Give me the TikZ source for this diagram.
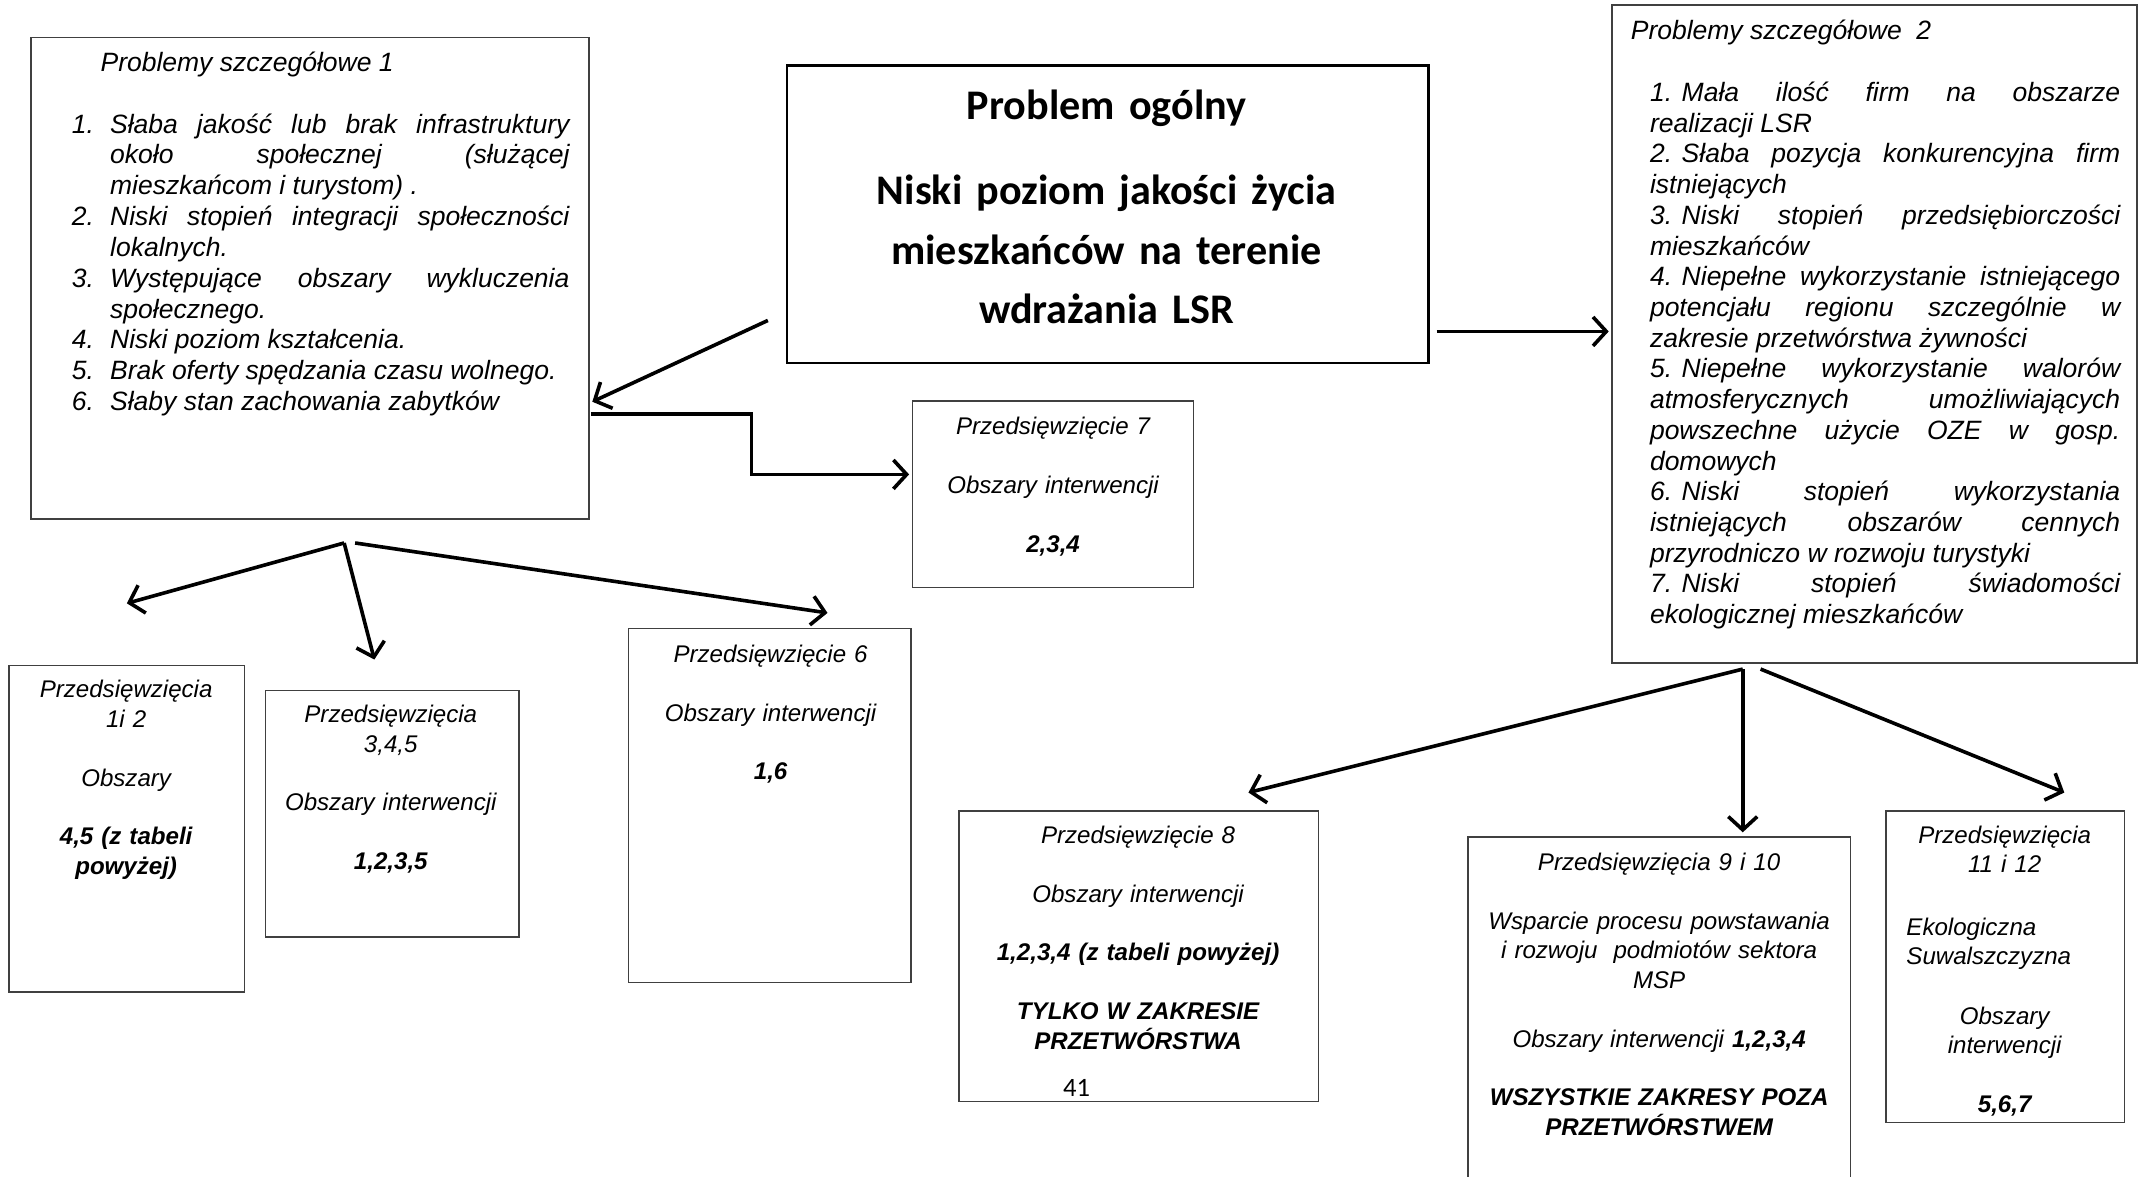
\documentclass[tikz,border=0pt]{standalone}
\usepackage{fontspec}
\setmainfont{Liberation Sans}
\newfontfamily\calibri{Carlito}
\usetikzlibrary{arrows.meta,calc}
\hyphenpenalty=10000
\tolerance=10000
\frenchspacing
% punkt listy z wiszacym wcieciem
\newcommand{\pkt}[1]{\noindent\hangindent=0.56cm\hangafter=1\makebox[0.56cm][l]{#1}\ignorespaces}

\begin{document}
\begin{tikzpicture}[%
    x=0.02cm, y=-0.02cm,
    ramka/.style={draw=black!75, line width=0.6pt, anchor=north west, inner sep=0pt},
    opis/.style={anchor=base, inner sep=0pt, align=center,
        font=\fontsize{10}{12.2}\selectfont\itshape},
    lista/.style={anchor=base west, inner sep=0pt, align=justify,
        font=\fontsize{11}{12.8}\selectfont\itshape},
    strz/.style={->, line width=1.5pt},
    >={Straight Barb[length=5.5pt,width=12pt]} % grot strzalki
    ]
    \useasboundingbox (0,0) rectangle (1568,858);

    % Ramki
    \node (ps1) [ramka, minimum width=8.14cm, minimum height=7.02cm] at (22,27) {};
    \node (ogolny) [ramka, draw=black, line width=1pt, minimum width=9.36cm, minimum height=4.34cm] at (573,47) {};
    \node (ps2) [ramka, minimum width=7.66cm, minimum height=9.6cm] at (1175,3) {};
    \node (p7) [ramka, minimum width=4.1cm, minimum height=2.72cm] at (665,292) {};
    \node (p12) [ramka, minimum width=3.44cm, minimum height=4.76cm] at (6,485) {};
    \node (p345) [ramka, minimum width=3.7cm, minimum height=3.6cm] at (193,503) {};
    \node (p6) [ramka, minimum width=4.12cm, minimum height=5.16cm] at (458,458) {};
    \node (p8) [ramka, minimum width=5.24cm, minimum height=4.24cm] at (699,591) {};
    \node (p910) [ramka, minimum width=5.58cm, minimum height=5.4cm] at (1070,610) {};
    \node (p1112) [ramka, minimum width=3.48cm, minimum height=4.54cm] at (1375,591) {};

    % Problem ogolny
    \node (tytul) [anchor=base, inner sep=0pt, align=center, text width=9cm,
        font=\calibri\bfseries\fontsize{17.5}{24.8}\selectfont] at (807,87)
        {Problem ogólny\\[10.5pt] Niski poziom jakości życia\\ mieszkańców na terenie\\ wdrażania LSR};

    % Problemy szczegolowe
    \node (ps1nag) [lista, align=left] at (73,52) {Problemy szczegółowe 1};
    \node (ps1t) [lista, text width=7.26cm] at (52,97) {%
        \pkt{1.}Słaba jakość lub brak infrastruktury\linebreak około społecznej (służącej\linebreak mieszkańcom i turystom) .\par
        \pkt{2.}Niski stopień integracji społeczności\linebreak lokalnych.\par
        \pkt{3.}Występujące obszary wykluczenia\linebreak społecznego.\par
        \pkt{4.}Niski poziom kształcenia.\par
        \pkt{5.}Brak oferty spędzania czasu wolnego.\par
        \pkt{6.}Słaby stan zachowania zabytków\par};

    \node (ps2nag) [lista, align=left] at (1189,29) {Problemy szczegółowe\ \ 2};
    \node (ps2t) [lista, text width=6.86cm, font=\fontsize{11}{12.75}\selectfont\itshape] at (1203,74) {%
        1.\hspace{4pt}Mała ilość firm na obszarze\linebreak realizacji LSR\par
        2.\hspace{4pt}Słaba pozycja konkurencyjna firm\linebreak istniejących\par
        3.\hspace{4pt}Niski stopień przedsiębiorczości\linebreak mieszkańców\par
        4.\hspace{4pt}Niepełne wykorzystanie istniejącego\linebreak potencjału regionu szczególnie w\linebreak zakresie przetwórstwa żywności\par
        5.\hspace{4pt}Niepełne wykorzystanie walorów\linebreak atmosferycznych umożliwiających\linebreak powszechne użycie OZE w gosp.\linebreak domowych\par
        6.\hspace{4pt}Niski stopień wykorzystania\linebreak istniejących obszarów cennych\linebreak przyrodniczo w rozwoju turystyki\par
        7.\hspace{4pt}Niski stopień świadomości\linebreak ekologicznej mieszkańców\par};

    % Przedsiewziecia
    \node (p7t) [opis, text width=3.9cm] at (768,317)
        {Przedsięwzięcie 7\\[12.2pt] Obszary interwencji\\[12.2pt] \textbf{2,3,4}};
    \node (p12t) [opis, text width=3.3cm] at (92,509)
        {Przedsięwzięcia\\ 1i 2\\[12.2pt] Obszary\\[12.2pt] \textbf{4,5 (z tabeli}\\ \textbf{powyżej)}};
    \node (p345t) [opis, text width=3.5cm] at (285,527)
        {Przedsięwzięcia\\ 3,4,5\\[12.2pt] Obszary interwencji\\[12.2pt] \textbf{1,2,3,5}};
    \node (p6t) [opis, text width=3.9cm] at (562,483)
        {Przedsięwzięcie 6\\[12.2pt] Obszary interwencji\\[12.2pt] \textbf{1,6}};
    \node (p8t) [opis, text width=5cm] at (830,615)
        {Przedsięwzięcie 8\\[12.2pt] Obszary interwencji\\[12.2pt] \textbf{1,2,3,4 (z tabeli powyżej)}\\[12.2pt]
         \textbf{TYLKO W ZAKRESIE}\\ \textbf{PRZETWÓRSTWA}};
    \node (strona) [anchor=base west, inner sep=0pt, font=\calibri\fontsize{11}{13}\selectfont] at (775,800) {41};
    \node (p910t) [opis, text width=5.4cm] at (1210,635)
        {Przedsięwzięcia 9 i 10\\[12.2pt] Wsparcie procesu powstawania\\ i rozwoju\ \ podmiotów sektora\\ MSP\\[12.2pt]
         Obszary interwencji \textbf{1,2,3,4}\\[12.2pt] \textbf{WSZYSTKIE ZAKRESY POZA}\\ \textbf{PRZETWÓRSTWEM}};
    \node (p1112t) [opis, text width=3.3cm] at (1462,615) {Przedsięwzięcia\\ 11 i 12};
    \node (p1112e) [opis, anchor=base west, align=left, text width=3cm] at (1390,682) {Ekologiczna\\ Suwalszczyzna};
    \node (p1112o) [opis, text width=3.3cm] at (1462,747) {Obszary\\ interwencji\\[12.2pt] \textbf{5,6,7}};

    % Strzalki
    \draw[strz] ($(ogolny.south west)+(-13,-32)$) -- ($(ps1.north east)+(2,266)$);
    \draw[strz] ($(ps1.north east)+(1,275)$) -- ++(117,0) |- ($(p7.north west)+(-2,54)$);
    \coordinate (s3) at ($(ogolny.south east)+(5,-24)$);
    \draw[strz, shorten >=1pt] (s3) -- (s3 -| ps2.west);

    \coordinate (ps1d) at ($(ps1.south)+(25,17)$);
    \draw[strz] (ps1d) -- ($(p12.north)+(0,-45)$);
    \draw[strz] (ps1d) -- ($(p345.north)+(-13,-22)$);
    \draw[strz] ($(ps1d)+(8,0)$) -- ($(p6.north)+(42,-11)$);

    \coordinate (ps2d) at ($(ps2.south)+(-96,4)$);
    \draw[strz] (ps2d) -- ($(p8.north)+(80,-13)$);
    \draw[strz, shorten >=0.06cm] (ps2d) -- (ps2d |- p910.north);
    \draw[strz] ($(ps2d)+(13,0)$) -- ($(p1112.north)+(43,-13)$);
\end{tikzpicture}
\end{document}
